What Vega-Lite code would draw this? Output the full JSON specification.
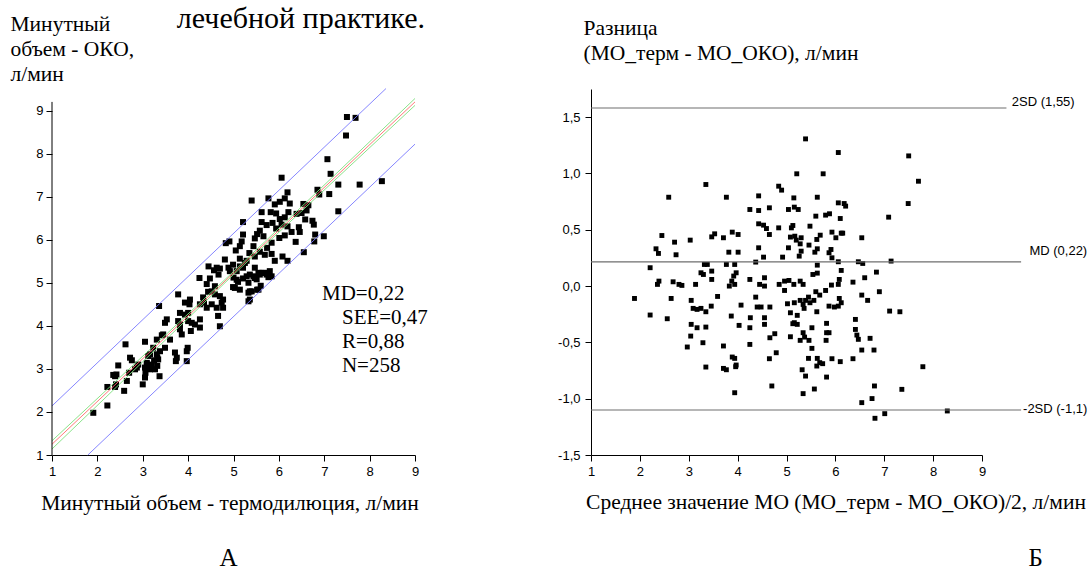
{
  "$schema": "https://vega.github.io/schema/vega-lite/v6.json",
  "background": "white",
  "padding": {"left": 10, "top": 4, "right": 0, "bottom": 0},
  "bounds": "flush",
  "spacing": 176,
  "config": {
    "view": {"stroke": null},
    "axis": {
      "domainColor": "black", "tickColor": "black", "labelColor": "black", "titleColor": "black",
      "labelFont": "Liberation Sans Narrow, Arial Narrow, Liberation Sans", "labelFontSize": 13,
      "titleFont": "Liberation Serif", "titleFontSize": 21.5, "titleFontWeight": "normal",
      "grid": false, "domainWidth": 1, "tickWidth": 1, "labelOverlap": false, "labelFlush": false
    }
  },
  "datasets": {
    "ptsA": [
      {"x":1.91,"y":1.98},{"x":2.22,"y":2.15},{"x":2.22,"y":2.58},{"x":2.39,"y":2.83},{"x":2.39,"y":2.58},{"x":2.41,"y":2.64},{"x":2.35,"y":2.86},{"x":2.46,"y":3.08},{"x":2.59,"y":2.49},{"x":2.62,"y":3.57},{"x":2.65,"y":2.72},{"x":2.72,"y":3.26},{"x":2.76,"y":3.2},{"x":2.7,"y":2.91},{"x":2.83,"y":2.99},{"x":2.87,"y":3.03},{"x":3.0,"y":2.64},{"x":3.05,"y":3.63},{"x":3.05,"y":3.03},{"x":3.09,"y":3.1},{"x":3.05,"y":2.8},{"x":3.06,"y":2.91},{"x":3.12,"y":3.3},{"x":3.16,"y":2.99},{"x":3.23,"y":3.49},{"x":3.25,"y":3.2},{"x":3.27,"y":2.99},{"x":3.32,"y":3.07},{"x":3.31,"y":3.68},{"x":3.31,"y":3.34},{"x":3.34,"y":3.22},{"x":3.36,"y":4.46},{"x":3.37,"y":2.83},{"x":3.38,"y":3.41},{"x":3.42,"y":3.78},{"x":3.45,"y":3.8},{"x":3.49,"y":4.07},{"x":3.53,"y":4.15},{"x":3.49,"y":3.49},{"x":3.6,"y":3.68},{"x":3.71,"y":3.38},{"x":3.73,"y":3.18},{"x":3.78,"y":4.73},{"x":3.78,"y":4.11},{"x":3.82,"y":4.3},{"x":3.82,"y":4.03},{"x":3.86,"y":3.8},{"x":3.93,"y":4.54},{"x":3.93,"y":4.26},{"x":3.97,"y":3.41},{"x":3.99,"y":3.49},{"x":3.97,"y":3.18},{"x":4.0,"y":4.3},{"x":4.0,"y":4.11},{"x":4.04,"y":4.61},{"x":4.03,"y":4.5},{"x":4.08,"y":4.07},{"x":4.06,"y":3.88},{"x":4.26,"y":4.15},{"x":4.26,"y":3.96},{"x":4.26,"y":4.5},{"x":4.35,"y":4.54},{"x":4.41,"y":4.42},{"x":4.52,"y":4.5},{"x":4.63,"y":4.42},{"x":4.66,"y":4.23},{"x":4.7,"y":3.99},{"x":4.74,"y":4.54},{"x":4.77,"y":4.42},{"x":5.33,"y":4.57},{"x":4.25,"y":5.11},
      {"x":2.42,"y":2.87},{"x":2.9,"y":3.1},{"x":3.09,"y":3.14},{"x":3.16,"y":3.34},{"x":3.2,"y":3.1},{"x":3.32,"y":3.26},{"x":3.75,"y":3.26},{"x":3.82,"y":3.92},{"x":4.15,"y":4.03},
      {"x":6.06,"y":7.44},{"x":7.14,"y":7.53},{"x":6.85,"y":7.16},{"x":6.89,"y":7.05},{"x":7.11,"y":7.06},{"x":6.19,"y":7.1},{"x":6.13,"y":6.96},{"x":6.24,"y":6.84},{"x":6.02,"y":6.88},{"x":5.77,"y":6.96},{"x":5.4,"y":6.91},{"x":5.91,"y":6.82},{"x":6.54,"y":6.83},{"x":6.65,"y":6.8},{"x":6.61,"y":6.68},{"x":6.5,"y":6.62},{"x":6.39,"y":6.6},{"x":6.58,"y":6.47},{"x":6.74,"y":6.44},{"x":6.77,"y":6.35},{"x":6.44,"y":6.29},{"x":6.46,"y":6.18},{"x":6.8,"y":6.12},{"x":6.99,"y":6.08},{"x":6.78,"y":5.96},{"x":6.55,"y":5.71},{"x":6.37,"y":5.95},{"x":6.21,"y":6.64},{"x":6.13,"y":6.52},{"x":6.02,"y":6.48},{"x":5.82,"y":6.64},{"x":5.94,"y":6.61},{"x":5.62,"y":6.64},{"x":5.21,"y":6.41},{"x":5.62,"y":6.41},{"x":5.73,"y":6.34},{"x":5.86,"y":6.39},{"x":5.94,"y":6.26},{"x":6.06,"y":6.35},{"x":6.19,"y":6.31},{"x":6.28,"y":6.18},{"x":6.13,"y":6.1},{"x":6.01,"y":6.04},{"x":5.84,"y":5.93},{"x":5.74,"y":5.81},{"x":5.58,"y":5.72},{"x":5.66,"y":6.08},{"x":5.47,"y":6.03},{"x":5.58,"y":6.21},{"x":5.52,"y":6.13},{"x":5.44,"y":5.85},{"x":5.35,"y":5.69},{"x":5.21,"y":6.12},{"x":5.18,"y":5.96},{"x":5.14,"y":5.85},{"x":5.05,"y":5.75},{"x":4.91,"y":5.96},{"x":4.83,"y":5.92},{"x":4.81,"y":5.54},{"x":5.14,"y":5.56},{"x":5.29,"y":5.51},{"x":5.47,"y":5.61},{"x":5.69,"y":5.65},{"x":5.84,"y":5.67},{"x":5.91,"y":5.51},{"x":6.08,"y":5.61},{"x":6.19,"y":5.51},{"x":5.8,"y":5.27},{"x":5.77,"y":5.13},{"x":5.62,"y":5.23},{"x":5.47,"y":5.11},{"x":5.36,"y":5.19},{"x":5.21,"y":5.1},{"x":5.1,"y":5.02},{"x":4.99,"y":4.9},{"x":5.14,"y":4.84},{"x":5.36,"y":4.8},{"x":5.52,"y":4.84},{"x":5.6,"y":4.93},{"x":4.92,"y":5.27},{"x":4.7,"y":5.33},{"x":4.57,"y":5.29},{"x":4.48,"y":5.1},{"x":4.41,"y":4.97},{"x":4.59,"y":4.92},{"x":4.44,"y":4.79},{"x":4.33,"y":4.66},{"x":4.7,"y":4.69},{"x":4.77,"y":4.61},{"x":5.36,"y":4.61},{"x":5.21,"y":5.35},{"x":4.99,"y":5.42},{"x":7.31,"y":6.66},
      {"x":7.5,"y":8.85},{"x":7.69,"y":8.83},{"x":7.48,"y":8.42},{"x":7.07,"y":7.87},{"x":7.31,"y":7.28},{"x":7.78,"y":7.28},{"x":8.27,"y":7.36},
      {"x":4.45,"y":5.38},{"x":4.63,"y":5.35},{"x":4.67,"y":5.19},{"x":4.52,"y":4.8},{"x":4.59,"y":4.73},{"x":4.89,"y":5.35},{"x":5.07,"y":5.27},{"x":5.14,"y":5.38},{"x":5.25,"y":5.46},{"x":5.47,"y":5.35},{"x":5.55,"y":5.23},{"x":5.33,"y":5.0},{"x":5.07,"y":5.07},{"x":5.03,"y":4.88},{"x":5.33,"y":4.77},{"x":5.4,"y":4.8},{"x":5.66,"y":5.23},{"x":5.77,"y":5.23},{"x":5.55,"y":4.84},
      {"x":5.29,"y":5.15},{"x":5.44,"y":5.15},{"x":5.58,"y":5.19},{"x":5.73,"y":5.19},{"x":5.84,"y":5.15},{"x":5.51,"y":5.08},{"x":5.0,"y":5.12}
    ],
    "linesA": [
      {"line":"upper","x":1,"y":2.14},{"line":"upper","x":8.36,"y":9.51},
      {"line":"lower","x":1.79,"y":1},{"line":"lower","x":9,"y":8.22},
      {"line":"fit","x":1,"y":1.25},{"line":"fit","x":9,"y":9.2},
      {"line":"ciHigh","x":1,"y":1.33},{"line":"ciHigh","x":5,"y":5.26},{"line":"ciHigh","x":9,"y":9.28},
      {"line":"ciLow","x":1,"y":1.14},{"line":"ciLow","x":5,"y":5.19},{"line":"ciLow","x":9,"y":9.12}
    ],
    "ptsB": [
      {"m":5.39,"d":1.307},{"m":6.06,"d":1.186},{"m":7.5,"d":1.156},{"m":7.7,"d":0.931},{"m":5.21,"d":0.997},{"m":5.75,"d":0.997},{"m":3.35,"d":0.902},{"m":2.59,"d":0.789},{"m":3.77,"d":0.789},{"m":4.84,"d":0.887},{"m":4.9,"d":0.852},{"m":4.43,"d":0.801},{"m":5.15,"d":0.783},{"m":5.63,"d":0.789},{"m":4.25,"d":0.68},{"m":4.43,"d":0.671},{"m":4.65,"d":0.695},{"m":5.04,"d":0.68},{"m":5.16,"d":0.701},{"m":5.24,"d":0.68},{"m":5.6,"d":0.621},{"m":5.8,"d":0.63},{"m":5.88,"d":0.642},{"m":6.06,"d":0.739},{"m":6.18,"d":0.733},{"m":6.21,"d":0.71},{"m":6.1,"d":0.6},{"m":7.09,"d":0.612},{"m":7.49,"d":0.733},{"m":2.45,"d":0.449},{"m":2.33,"d":0.331},{"m":2.38,"d":0.29},{"m":2.71,"d":0.39},{"m":2.74,"d":0.278},{"m":3.03,"d":0.408},{"m":3.47,"d":0.437},{"m":3.53,"d":0.464},{"m":3.71,"d":0.429},{"m":3.89,"d":0.479},{"m":4.01,"d":0.458},{"m":3.82,"d":0.301},{"m":4.01,"d":0.301},{"m":4.43,"d":0.553},{"m":4.53,"d":0.541},{"m":4.59,"d":0.511},{"m":4.65,"d":0.458},{"m":4.84,"d":0.517},{"m":5.1,"d":0.517},{"m":5.13,"d":0.538},{"m":5.08,"d":0.435},{"m":5.17,"d":0.443},{"m":5.2,"d":0.408},{"m":5.3,"d":0.429},{"m":5.28,"d":0.375},{"m":5.48,"d":0.532},{"m":5.46,"d":0.364},{"m":5.62,"d":0.414},{"m":5.69,"d":0.452},{"m":5.93,"d":0.479},{"m":6.01,"d":0.429},{"m":6.12,"d":0.47},{"m":6.15,"d":0.47},{"m":6.54,"d":0.429},{"m":4.43,"d":0.34},{"m":5.04,"d":0.34},{"m":5.63,"d":0.331},{"m":5.58,"d":0.301},{"m":5.3,"d":0.31},{"m":5.26,"d":0.266},{"m":4.92,"d":0.257},{"m":4.53,"d":0.257},{"m":4.37,"d":0.213},{"m":5.91,"d":0.325},{"m":5.87,"d":0.296},{"m":5.93,"d":0.251},{"m":6.06,"d":0.216},{"m":6.12,"d":0.139},{"m":6.47,"d":0.216},{"m":6.56,"d":0.201},{"m":7.14,"d":0.222},{"m":2.21,"d":0.163},{"m":3.32,"d":0.192},{"m":3.38,"d":0.192},{"m":3.25,"d":0.118},{"m":3.3,"d":0.103},{"m":3.47,"d":0.133},{"m":3.47,"d":0.059},{"m":3.77,"d":0.192},{"m":3.94,"d":0.192},{"m":3.97,"d":0.118},{"m":3.92,"d":0.089},{"m":3.88,"d":0.044},{"m":5.63,"d":0.186},{"m":5.63,"d":0.115},{"m":5.54,"d":0.103},{"m":6.6,"d":0.074},{"m":6.84,"d":0.124},{"m":6.36,"d":0.035},{"m":2.36,"d":0.015},{"m":2.39,"d":0.044},{"m":2.68,"d":0.038},{"m":2.8,"d":0.015},{"m":2.86,"d":0.006},{"m":3.14,"d":0.015},{"m":3.83,"d":0.0},{"m":3.94,"d":0.015},{"m":4.25,"d":0.059},{"m":4.45,"d":0.015},{"m":4.55,"d":0.074},{"m":4.55,"d":0.0},{"m":4.85,"d":0.015},{"m":4.96,"d":0.044},{"m":5.05,"d":0.05},{"m":5.15,"d":0.015},{"m":5.28,"d":0.044},{"m":5.34,"d":0.015},{"m":5.92,"d":0.009},{"m":6.06,"d":0.015},{"m":6.08,"d":0.059},
      {"m":1.89,"d":-0.11},{"m":2.21,"d":-0.257},{"m":2.56,"d":-0.29},{"m":2.64,"d":-0.11},{"m":3.05,"d":-0.127},{"m":3.09,"d":-0.198},{"m":3.17,"d":-0.207},{"m":3.25,"d":-0.198},{"m":3.35,"d":-0.228},{"m":3.46,"d":-0.178},{"m":3.59,"d":-0.092},{"m":3.05,"d":-0.34},{"m":3.17,"d":-0.37},{"m":3.35,"d":-0.364},{"m":3.04,"d":-0.444},{"m":2.97,"d":-0.541},{"m":3.29,"d":-0.503},{"m":3.35,"d":-0.719},{"m":3.71,"d":-0.532},{"m":3.71,"d":-0.731},{"m":3.77,"d":-0.743},{"m":3.87,"d":-0.266},{"m":4.07,"d":-0.169},{"m":4.03,"d":-0.349},{"m":3.89,"d":-0.63},{"m":3.94,"d":-0.642},{"m":3.97,"d":-0.701},{"m":3.96,"d":-0.716},{"m":3.94,"d":-0.947},{"m":4.26,"d":-0.281},{"m":4.25,"d":-0.37},{"m":4.25,"d":-0.518},{"m":4.37,"d":-0.098},{"m":4.4,"d":-0.186},{"m":4.48,"d":-0.186},{"m":4.55,"d":-0.281},{"m":4.55,"d":-0.34},{"m":4.66,"d":-0.186},{"m":4.66,"d":-0.459},{"m":4.76,"d":-0.423},{"m":4.79,"d":-0.592},{"m":4.65,"d":-0.645},{"m":4.7,"d":-0.887},{"m":4.96,"d":-0.039},{"m":5.02,"d":-0.157},{"m":5.08,"d":-0.237},{"m":5.16,"d":-0.148},{"m":5.22,"d":-0.26},{"m":5.16,"d":-0.325},{"m":5.22,"d":-0.34},{"m":5.13,"d":-0.334},{"m":5.08,"d":-0.45},{"m":5.28,"d":-0.127},{"m":5.34,"d":-0.163},{"m":5.36,"d":-0.198},{"m":5.39,"d":-0.127},{"m":5.45,"d":-0.098},{"m":5.48,"d":-0.148},{"m":5.56,"d":-0.127},{"m":5.6,"d":-0.05},{"m":5.68,"d":-0.08},{"m":5.52,"d":-0.37},{"m":5.34,"d":-0.414},{"m":5.37,"d":-0.453},{"m":5.28,"d":-0.482},{"m":5.46,"d":-0.482},{"m":5.52,"d":-0.553},{"m":5.45,"d":-0.642},{"m":5.62,"d":-0.228},{"m":5.63,"d":-0.642},{"m":5.62,"d":-0.71},{"m":5.68,"d":-0.68},{"m":5.74,"d":-0.689},{"m":5.32,"d":-0.743},{"m":5.39,"d":-0.799},{"m":5.34,"d":-0.955},{"m":5.57,"d":-0.914},{"m":5.82,"d":-0.331},{"m":5.82,"d":-0.414},{"m":5.87,"d":-0.414},{"m":5.81,"d":-0.482},{"m":5.82,"d":-0.808},{"m":5.8,"d":-0.039},{"m":5.87,"d":-0.178},{"m":5.98,"d":-0.186},{"m":6.06,"d":-0.178},{"m":6.08,"d":-0.11},{"m":6.12,"d":-0.148},{"m":5.93,"d":-0.645},{"m":6.1,"d":-0.671},{"m":6.36,"d":-0.645},{"m":6.41,"d":-0.296},{"m":6.41,"d":-0.385},{"m":6.44,"d":-0.435},{"m":6.47,"d":-0.473},{"m":6.54,"d":-0.08},{"m":6.66,"d":-0.127},{"m":6.54,"d":-0.568},{"m":6.54,"d":-1.035},{"m":6.75,"d":-0.999},{"m":6.71,"d":-0.464},{"m":6.79,"d":-0.568},{"m":6.8,"d":-0.887},{"m":6.81,"d":-1.174},{"m":6.9,"d":-0.05},{"m":7.01,"d":-1.133},{"m":7.11,"d":-0.222},{"m":7.32,"d":-0.228},{"m":7.36,"d":-0.917},{"m":7.79,"d":-0.716},{"m":8.29,"d":-1.109}
    ],
    "sdB": [
      {"k":"2SD","m":1,"m2":9.5,"d":1.581},
      {"k":"MD","m":1,"m2":9.8,"d":0.215},
      {"k":"-2SD","m":1,"m2":9.8,"d":-1.101}
    ]
  },
  "hconcat": [
    {
      "width": 363,
      "height": 366,
      "layer": [
        {
          "data": {"name": "ptsA"},
          "mark": {"type": "point", "shape": "square", "filled": true, "color": "black", "opacity": 1, "size": 36, "strokeWidth": 0},
          "encoding": {
            "x": {"field": "x", "type": "quantitative",
              "scale": {"domain": [1, 9], "nice": false, "zero": false},
              "axis": {
                "title": "Минутный объем - термодилюция, л/мин",
                "values": [1,1.5,2,2.5,3,3.5,4,4.5,5,5.5,6,6.5,7,7.5,8,8.5,9],
                "labelExpr": "datum.value % 1 ? '' : format(datum.value, 'd')",
                "tickSize": {"condition": {"test": "datum.value % 1 != 0", "value": 3}, "value": 6},
                "labelPadding": 4,
                "titleX": 177.5, "titleY": 54, "titleAlign": "center", "titleBaseline": "alphabetic"
              }
            },
            "y": {"field": "y", "type": "quantitative",
              "scale": {"domain": [1, 9.5], "nice": false, "zero": false},
              "axis": {
                "title": ["Минутный", "объем - ОКО,", "\u00a0л/мин"],
                "values": [1,1.5,2,2.5,3,3.5,4,4.5,5,5.5,6,6.5,7,7.5,8,8.5,9],
                "labelExpr": "datum.value % 1 ? '' : format(datum.value, 'd')",
                "tickSize": {"condition": {"test": "datum.value % 1 != 0", "value": 3}, "value": 6},
                "labelPadding": 3,
                "domain": false,
                "titleAngle": 0, "titleX": -42, "titleY": -59, "titleAlign": "left", "titleBaseline": "alphabetic", "titleLineHeight": 25
              }
            }
          }
        },
        {
          "data": {"name": "linesA"},
          "mark": {"type": "line", "strokeWidth": 0.9},
          "encoding": {
            "x": {"field": "x", "type": "quantitative", "scale": {"domain": [1, 9], "nice": false, "zero": false}},
            "y": {"field": "y", "type": "quantitative", "scale": {"domain": [1, 9.5], "nice": false, "zero": false}},
            "color": {"field": "line", "type": "nominal", "legend": null,
              "scale": {"domain": ["upper", "lower", "fit", "ciHigh", "ciLow"], "range": ["#7878ff", "#7878ff", "#ff6a6a", "#7de07d", "#7de07d"]}}
          }
        },
        {
          "data": {"values": [{}]},
          "mark": {"type": "rule", "color": "black", "strokeWidth": 1},
          "encoding": {
            "x": {"datum": 1, "type": "quantitative", "scale": {"domain": [1, 9], "nice": false, "zero": false}},
            "y": {"datum": 1, "type": "quantitative", "scale": {"domain": [1, 9.5], "nice": false, "zero": false}},
            "y2": {"datum": 9.2}
          }
        },
        {
          "data": {"values": [{}]},
          "mark": {"type": "text", "text": "MD=0,22", "font": "Liberation Serif", "fontSize": 21, "align": "left", "baseline": "alphabetic", "color": "black"},
          "encoding": {
            "x": {"datum": 6.95, "type": "quantitative", "scale": {"domain": [1, 9], "nice": false, "zero": false}},
            "y": {"datum": 4.6, "type": "quantitative", "scale": {"domain": [1, 9.5], "nice": false, "zero": false}}
          }
        },
        {
          "data": {"values": [{}]},
          "mark": {"type": "text", "text": ["SEE=0,47", "R=0,88", "N=258"], "lineHeight": 24, "font": "Liberation Serif", "fontSize": 21, "align": "left", "baseline": "alphabetic", "color": "black"},
          "encoding": {
            "x": {"datum": 7.39, "type": "quantitative", "scale": {"domain": [1, 9], "nice": false, "zero": false}},
            "y": {"datum": 4.04, "type": "quantitative", "scale": {"domain": [1, 9.5], "nice": false, "zero": false}}
          }
        },
        {
          "data": {"values": [{}]},
          "mark": {"type": "text", "text": "лечебной практике.", "font": "Liberation Serif", "fontSize": 30, "align": "left", "baseline": "alphabetic", "color": "black"},
          "encoding": {
            "x": {"datum": 3.75, "type": "quantitative", "scale": {"domain": [1, 9], "nice": false, "zero": false}},
            "y": {"datum": 10.915, "type": "quantitative", "scale": {"domain": [1, 9.5], "nice": false, "zero": false}}
          }
        },
        {
          "data": {"values": [{}]},
          "mark": {"type": "text", "text": "А", "font": "Liberation Serif", "fontSize": 25, "align": "center", "baseline": "alphabetic", "color": "black"},
          "encoding": {
            "x": {"datum": 4.89, "type": "quantitative", "scale": {"domain": [1, 9], "nice": false, "zero": false}},
            "y": {"datum": -1.575, "type": "quantitative", "scale": {"domain": [1, 9.5], "nice": false, "zero": false}}
          }
        }
      ]
    },
    {
      "width": 391,
      "height": 366,
      "layer": [
        {
          "data": {"name": "ptsB"},
          "mark": {"type": "point", "shape": "square", "filled": true, "color": "black", "opacity": 1, "size": 24, "strokeWidth": 0},
          "encoding": {
            "x": {"field": "m", "type": "quantitative",
              "scale": {"domain": [1, 9], "nice": false, "zero": false},
              "axis": {
                "title": "Среднее значение МО (МО_терм - МО_ОКО)/2, л/мин",
                "values": [1,1.5,2,2.5,3,3.5,4,4.5,5,5.5,6,6.5,7,7.5,8,8.5,9],
                "labelExpr": "datum.value % 1 ? '' : format(datum.value, 'd')",
                "tickSize": {"condition": {"test": "datum.value % 1 != 0", "value": 3}, "value": 6},
                "labelPadding": 4,
                "titleX": 244.5, "titleY": 53, "titleAlign": "center", "titleBaseline": "alphabetic"
              }
            },
            "y": {"field": "d", "type": "quantitative",
              "scale": {"domain": [-1.5, 1.75], "nice": false, "zero": false},
              "axis": {
                "title": ["Разница", "(МО_терм - МО_ОКО), л/мин"],
                "values": [-1.5,-1.25,-1,-0.75,-0.5,-0.25,0,0.25,0.5,0.75,1,1.25,1.5,1.75],
                "labelExpr": "(datum.value * 2) % 1 ? '' : replace(replace(format(datum.value, '.1f'), '.', ','), '\u2212', '-')",
                "tickSize": {"condition": {"test": "(datum.value * 2) % 1 != 0", "value": 3}, "value": 6},
                "labelPadding": 5,
                "titleAngle": 0, "titleX": -8, "titleY": -55, "titleAlign": "left", "titleBaseline": "alphabetic", "titleLineHeight": 25
              }
            }
          }
        },
        {
          "data": {"name": "sdB"},
          "mark": {"type": "rule", "color": "#6e6e6e", "strokeWidth": 1.1},
          "encoding": {
            "x": {"field": "m", "type": "quantitative", "scale": {"domain": [1, 9], "nice": false, "zero": false}},
            "x2": {"field": "m2"},
            "y": {"field": "d", "type": "quantitative", "scale": {"domain": [-1.5, 1.75], "nice": false, "zero": false}}
          }
        },
        {
          "data": {"values": [{}]},
          "mark": {"type": "text", "text": "2SD (1,55)", "font": "Liberation Sans Narrow, Arial Narrow, Liberation Sans", "fontSize": 13, "align": "left", "baseline": "alphabetic", "color": "black"},
          "encoding": {
            "x": {"datum": 9.61, "type": "quantitative", "scale": {"domain": [1, 9], "nice": false, "zero": false}},
            "y": {"datum": 1.6, "type": "quantitative", "scale": {"domain": [-1.5, 1.75], "nice": false, "zero": false}}
          }
        },
        {
          "data": {"values": [{}]},
          "mark": {"type": "text", "text": "MD (0,22)", "font": "Liberation Sans Narrow, Arial Narrow, Liberation Sans", "fontSize": 13, "align": "left", "baseline": "alphabetic", "color": "black"},
          "encoding": {
            "x": {"datum": 9.97, "type": "quantitative", "scale": {"domain": [1, 9], "nice": false, "zero": false}},
            "y": {"datum": 0.28, "type": "quantitative", "scale": {"domain": [-1.5, 1.75], "nice": false, "zero": false}}
          }
        },
        {
          "data": {"values": [{}]},
          "mark": {"type": "text", "text": "-2SD (-1,1)", "font": "Liberation Sans Narrow, Arial Narrow, Liberation Sans", "fontSize": 13, "align": "left", "baseline": "alphabetic", "color": "black"},
          "encoding": {
            "x": {"datum": 9.84, "type": "quantitative", "scale": {"domain": [1, 9], "nice": false, "zero": false}},
            "y": {"datum": -1.13, "type": "quantitative", "scale": {"domain": [-1.5, 1.75], "nice": false, "zero": false}}
          }
        },
        {
          "data": {"values": [{}]},
          "mark": {"type": "text", "text": "Б", "font": "Liberation Serif", "fontSize": 25, "align": "center", "baseline": "alphabetic", "color": "black"},
          "encoding": {
            "x": {"datum": 10.1, "type": "quantitative", "scale": {"domain": [1, 9], "nice": false, "zero": false}},
            "y": {"datum": -2.483, "type": "quantitative", "scale": {"domain": [-1.5, 1.75], "nice": false, "zero": false}}
          }
        }
      ]
    }
  ]
}
